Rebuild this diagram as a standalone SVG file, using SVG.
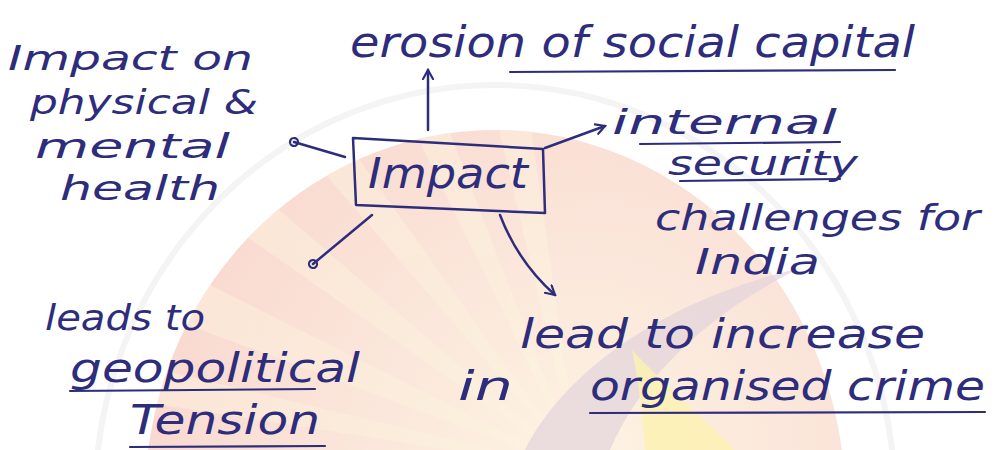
<svg xmlns="http://www.w3.org/2000/svg" width="1000" height="450" viewBox="0 0 1000 450">
<defs>
<style>
.t{font-family:"DejaVu Sans","Liberation Sans",sans-serif;font-style:italic;fill:#2e2d7c}
.ln{stroke:#2e2d7c;stroke-width:2.5;fill:none;stroke-linecap:round;stroke-linejoin:round}
.ul{stroke:#2e2d7c;stroke-width:2.2;fill:none;stroke-linecap:round}
</style>
<radialGradient id="bg" cx="580" cy="470" r="420" gradientUnits="userSpaceOnUse">
<stop offset="0" stop-color="#fdf4e2"/>
<stop offset="0.5" stop-color="#fbe7db"/>
<stop offset="1" stop-color="#f9dad1"/>
</radialGradient>
<clipPath id="arch"><ellipse cx="495" cy="500" rx="350" ry="370"/></clipPath>
<marker id="arr" viewBox="0 0 12 12" refX="10" refY="6" markerWidth="12" markerHeight="12" orient="auto" markerUnits="userSpaceOnUse">
<path d="M1,1 L10,6 L1,11" fill="none" stroke="#2e2d7c" stroke-width="2.2" stroke-linecap="round"/>
</marker>
<marker id="loop" viewBox="0 0 12 12" refX="6" refY="6" markerWidth="12" markerHeight="12" orient="auto" markerUnits="userSpaceOnUse">
<circle cx="6" cy="6" r="4" fill="none" stroke="#2e2d7c" stroke-width="2.2"/>
</marker>
</defs>
<g id="background">
<rect width="1000" height="450" fill="#ffffff"/>
<ellipse cx="495" cy="500" rx="400" ry="415" fill="none" stroke="#f4f4f4" stroke-width="6"/>
<ellipse cx="495" cy="500" rx="350" ry="370" fill="url(#bg)"/>
<g clip-path="url(#arch)" fill="#fdf3dd" opacity="0.45">
<polygon points="580,470 120,300 140,250"/>
<polygon points="580,470 180,190 210,150"/>
<polygon points="580,470 270,110 310,90"/>
<polygon points="580,470 380,60 420,55"/>
<polygon points="580,470 130,400 120,360"/>
<polygon points="580,470 480,50 520,50"/>
</g>
<path d="M525,450 C565,370 665,300 800,268 C705,315 640,380 610,450 Z" fill="#e2d3dc" opacity="0.7"/>
<path d="M632,350 C660,380 700,415 735,450 L645,450 C642,410 638,380 632,350 Z" fill="#fcf1b0" opacity="0.8"/>
</g>
<g id="connectors">
<line class="ln" x1="428" y1="130" x2="428" y2="70" marker-end="url(#arr)"/>
<line class="ln" x1="345" y1="157" x2="294" y2="142" marker-end="url(#loop)"/>
<line class="ln" x1="545" y1="148" x2="605" y2="126" marker-end="url(#arr)"/>
<line class="ln" x1="372" y1="215" x2="313" y2="264" marker-end="url(#loop)"/>
<path class="ln" d="M500,215 Q518,262 555,295" marker-end="url(#arr)"/>
</g>
<g id="node-impact">
<polygon class="ln" points="353,138 543,149 545,213 356,205"/>
<text class="t" x="368" y="188" font-size="42" textLength="160" lengthAdjust="spacingAndGlyphs">Impact</text>
</g>
<g id="node-erosion">
<text class="t" x="350" y="57" font-size="42" textLength="565" lengthAdjust="spacingAndGlyphs">erosion of social capital</text>
<line class="ul" x1="510" y1="72" x2="895" y2="70"/>
</g>
<g id="node-health">
<text class="t" x="8" y="70" font-size="34" textLength="245" lengthAdjust="spacingAndGlyphs">Impact on</text>
<text class="t" x="30" y="114" font-size="34" textLength="228" lengthAdjust="spacingAndGlyphs">physical &amp;</text>
<text class="t" x="35" y="158" font-size="34" textLength="195" lengthAdjust="spacingAndGlyphs">mental</text>
<text class="t" x="60" y="200" font-size="34" textLength="160" lengthAdjust="spacingAndGlyphs">health</text>
</g>
<g id="node-security">
<text class="t" x="612" y="134" font-size="34" textLength="225" lengthAdjust="spacingAndGlyphs">internal</text>
<line class="ul" x1="640" y1="144" x2="840" y2="142"/>
<text class="t" x="668" y="175" font-size="34" textLength="190" lengthAdjust="spacingAndGlyphs">security</text>
<line class="ul" x1="680" y1="181" x2="840" y2="179"/>
<text class="t" x="655" y="230" font-size="36" textLength="325" lengthAdjust="spacingAndGlyphs">challenges for</text>
<text class="t" x="695" y="274" font-size="36" textLength="125" lengthAdjust="spacingAndGlyphs">India</text>
</g>
<g id="node-geopolitical">
<text class="t" x="45" y="330" font-size="36" textLength="160" lengthAdjust="spacingAndGlyphs">leads to</text>
<text class="t" x="70" y="382" font-size="40" textLength="290" lengthAdjust="spacingAndGlyphs">geopolitical</text>
<line class="ul" x1="70" y1="391" x2="315" y2="389"/>
<text class="t" x="130" y="434" font-size="40" textLength="190" lengthAdjust="spacingAndGlyphs">Tension</text>
<line class="ul" x1="130" y1="447" x2="325" y2="446"/>
</g>
<g id="node-crime">
<text class="t" x="520" y="348" font-size="40" textLength="405" lengthAdjust="spacingAndGlyphs">lead to increase</text>
<text class="t" x="458" y="400" font-size="40" textLength="55" lengthAdjust="spacingAndGlyphs">in</text>
<text class="t" x="590" y="400" font-size="40" textLength="395" lengthAdjust="spacingAndGlyphs">organised crime</text>
<line class="ul" x1="590" y1="413" x2="985" y2="412"/>
</g>
</svg>
